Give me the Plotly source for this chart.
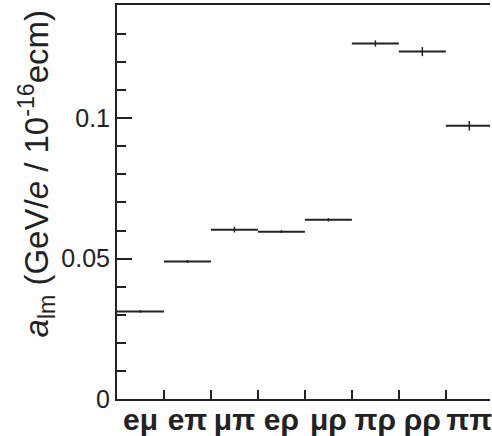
import plotly.graph_objects as go

categories = ["eμ", "eπ", "μπ", "eρ", "μρ", "πρ", "ρρ", "ππ"]
values = [0.0312, 0.0490, 0.0603, 0.0596, 0.0638, 0.1266, 0.1237, 0.0973]
errors = [0.0005, 0.0005, 0.0010, 0.0005, 0.0006, 0.0011, 0.0016, 0.0017]
ytick_vals = [0, 0.05, 0.1]
ytick_text = ["0", "0.05", "0.1"]

n = len(categories)
centers = [i + 0.5 for i in range(n)]
boundaries = [i for i in range(1, n)]
half_width = [0.5] * n

ink = "#222222"
xrange_ = [0, 7.94]

fig = go.Figure()
fig.add_trace(go.Scatter(
    x=centers, y=values, mode="markers",
    marker=dict(size=1, color=ink),
    error_x=dict(type="data", array=half_width, thickness=2, width=0, color=ink),
    error_y=dict(type="data", array=errors, thickness=1.5, width=0, color=ink),
    showlegend=False, hoverinfo="skip",
))
# invisible trace on the label axis
fig.add_trace(go.Scatter(
    x=centers, y=values, xaxis="x2", mode="markers",
    marker=dict(size=0, opacity=0), showlegend=False, hoverinfo="skip",
))

fig.update_layout(
    width=492, height=436,
    margin=dict(l=117, r=0, t=5, b=36),
    paper_bgcolor="white", plot_bgcolor="white",
    font=dict(family="Liberation Sans, Arial, sans-serif", color=ink),
    xaxis=dict(
        range=xrange_, tickvals=boundaries, ticktext=[""] * len(boundaries),
        ticks="inside", ticklen=9, tickwidth=2, tickcolor=ink,
        showline=True, linewidth=2, linecolor=ink, mirror=True,
        showgrid=False, zeroline=False,
    ),
    xaxis2=dict(
        range=xrange_, overlaying="x", anchor="y", side="bottom",
        tickvals=centers, ticktext=categories, ticks="",
        showline=False, showgrid=False, zeroline=False,
        tickfont=dict(size=30, color=ink, weight="bold"),
        ticklabelstandoff=0, ticklabeloverflow="allow",
    ),
    yaxis=dict(
        range=[0, 0.1403], tickvals=ytick_vals, ticktext=ytick_text,
        ticks="inside", ticklen=15, tickwidth=2, tickcolor=ink,
        minor=dict(dtick=0.01, ticks="inside", ticklen=9, tickwidth=2, tickcolor=ink, showgrid=False),
        showline=True, linewidth=2, linecolor=ink,
        showgrid=False, zeroline=False,
        tickfont=dict(size=25, color=ink),
    ),
    annotations=[dict(
        text="<i>a</i><sub>lm</sub> (GeV/<i>e</i> / 10<sup>-16</sup>ecm)",
        xref="paper", yref="paper", x=-0.215, y=0.572,
        xanchor="center", yanchor="middle", textangle=-90,
        showarrow=False, font=dict(size=33, color=ink),
    )],
)

fig.write_html("out.html")
